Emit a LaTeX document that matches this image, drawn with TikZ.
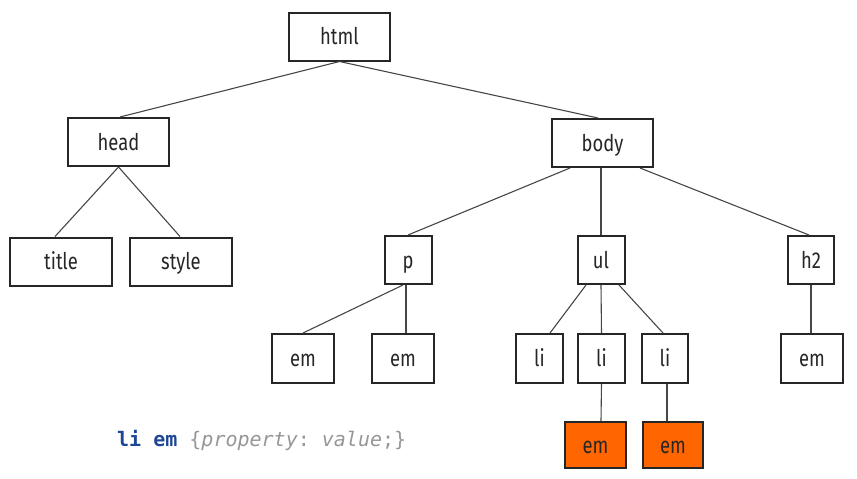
\documentclass[tikz,border=0pt]{standalone}
\usepackage{fontspec}
\setmainfont{Fira Sans}[FakeStretch=0.8]
\setmonofont{DejaVu Sans Mono}
\definecolor{boxorange}{RGB}{255,102,0}
\definecolor{codeblue}{RGB}{30,70,150}
\definecolor{codegray}{RGB}{150,150,150}
\definecolor{edgegray}{RGB}{70,70,70}
\begin{document}
\begin{tikzpicture}[x=1pt,y=-1pt,
  tag/.style={draw=black!85,line width=2pt,fill=white,inner sep=0pt,
    font=\fontsize{23}{23}\selectfont,text=black!85,
    text height=18pt,text depth=2pt},
  wide/.style={tag,minimum width=101pt,minimum height=48pt},
  sq/.style={tag,minimum width=47pt,minimum height=48pt},
  emb/.style={tag,minimum width=62pt,minimum height=49pt},
  hit/.style={tag,fill=boxorange,minimum width=60pt,minimum height=46pt},
  edge/.style={draw=edgegray,line width=1.1pt}]
\useasboundingbox (0,0) rectangle (857,479);
% nodes
\node[wide] (html) at (339.5,36.5) {html};
\node[wide] (head) at (118.5,142) {head};
\node[wide] (body) at (602.5,143) {body};
\node[wide,minimum width=102pt] (title) at (61,261.5) {title};
\node[wide,minimum width=102pt] (style) at (181,261.5) {style};
\node[sq] (p) at (408,260) {p};
\node[sq] (ul) at (601,260) {ul};
\node[sq,minimum width=46pt] (h2) at (811,260) {h2};
\node[emb] (em1) at (303,358.5) {em};
\node[emb] (em2) at (403,358.5) {em};
\node[sq,minimum height=49pt] (li1) at (539.5,358.5) {li};
\node[sq,minimum height=49pt] (li2) at (601.5,358.5) {li};
\node[sq,minimum width=46pt,minimum height=49pt] (li3) at (665,358.5) {li};
\node[emb] (em3) at (812,358.5) {em};
\node[hit,minimum width=61pt] (oem1) at (595.5,445) {em};
\node[hit] (oem2) at (673,445) {em};
% code label
\node[anchor=base west,inner sep=0pt,font=\ttfamily\fontsize{20}{20}\selectfont] (code) at (117,446)
  {\textcolor{codeblue}{\textbf{li em}} \textcolor{codegray}{\{\textit{property}: \textit{value};\}}};
% connectors
\draw[edge] (html.south) -- ([xshift=1.5pt]head.north);
\draw[edge] (html.south) -- ([xshift=-4.5pt]body.north);
\draw[edge] (head.south) -- ([xshift=-6pt]title.north);
\draw[edge] (head.south) -- ([xshift=-1pt]style.north);
\draw[edge] ([xshift=-32.5pt]body.south) -- (p.north);
\draw[edge] (body.south -| ul.north) -- (ul.north);
\draw[edge] ([xshift=37.5pt]body.south) -- ([xshift=-2pt]h2.north);
\draw[edge] ([xshift=-5pt]p.south) -- (em1.north);
\draw[edge] ([xshift=-2pt]p.south) -- ([xshift=3pt]em2.north);
\draw[edge] ([xshift=-15pt]ul.south) -- ([xshift=10.5pt]li1.north);
\draw[edge] (ul.south) -- (li2.north);
\draw[edge] ([xshift=18pt]ul.south) -- ([xshift=-2pt]li3.north);
\draw[edge] (li2.south) -- ([xshift=5.5pt]oem1.north);
\draw[edge] ([xshift=2pt]li3.south) -- ([xshift=-6pt]oem2.north);
\draw[edge] (h2.south) -- ([xshift=-1pt]em3.north);
\end{tikzpicture}
\end{document}
